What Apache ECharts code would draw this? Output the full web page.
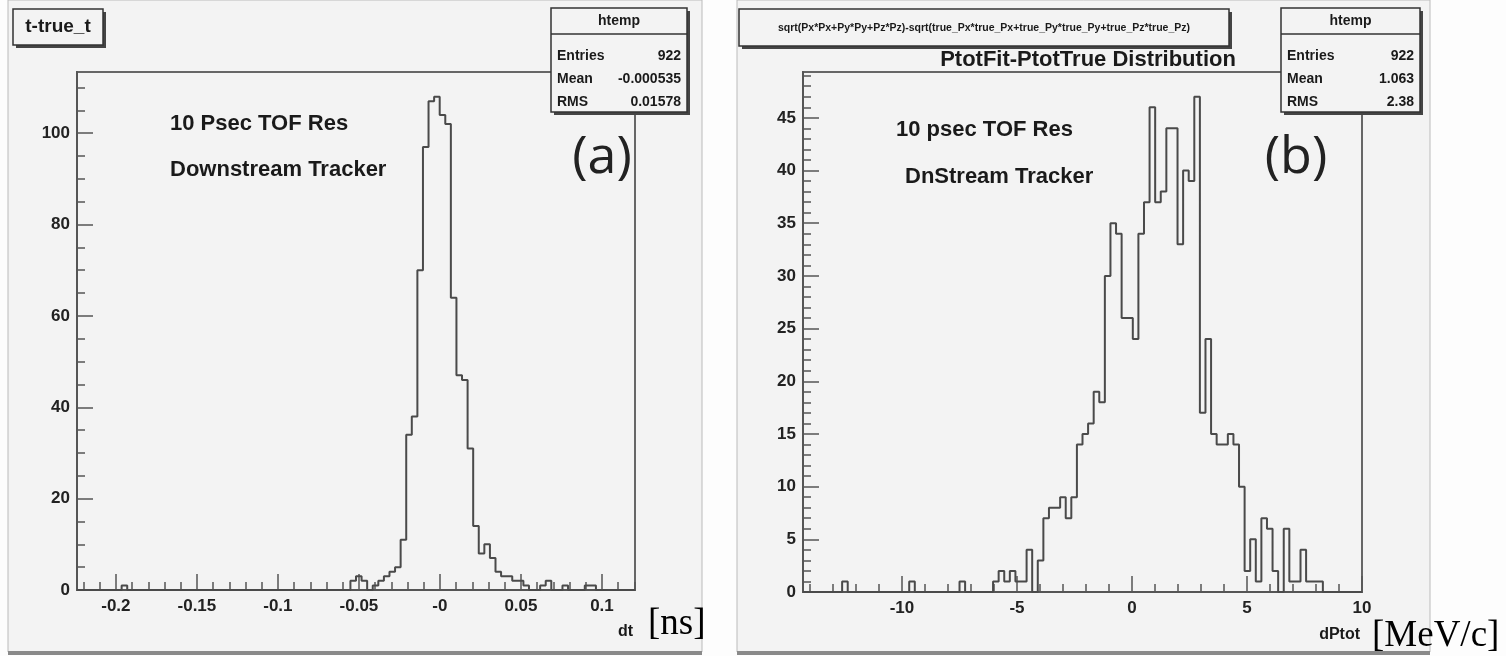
<!DOCTYPE html>
<html>
<head>
<meta charset="utf-8">
<script src="https://cdn.jsdelivr.net/npm/echarts@6/dist/echarts.min.js"></script>
<style>
  html, body { margin: 0; padding: 0; background: #fdfdfd; }
  #container { width: 1506px; height: 656px; }
</style>
</head>
<body>
<div id="container"></div>
<script>
var dom = document.getElementById("container");
var myChart = echarts.init(dom);

// (a) t - true_t, 100 bins
var dtRange = [-0.224, 0.1204];
var dtYMax = 113.4;
var dtCounts = [
  0, 0, 0, 0, 0, 0, 0, 0, 1, 0,
  0, 0, 0, 0, 0, 0, 0, 0, 0, 0,
  0, 0, 0, 0, 0, 0, 0, 0, 0, 0,
  0, 0, 0, 0, 0, 0, 0, 0, 0, 0,
  0, 0, 0, 0, 0, 0, 0, 0, 0, 2,
  3, 2, 0, 1, 2, 3, 4, 5, 11, 34,
  38, 70, 97, 107, 108, 104, 102, 64, 47, 46,
  31, 14, 8, 10, 7, 4, 3, 3, 2, 2,
  1, 0, 0, 1, 2, 0, 0, 1, 0, 0,
  0, 1, 1, 0, 0, 0, 0, 0, 0, 0
];
var dtXMajor = [-0.2, -0.15, -0.1, -0.05, 0, 0.05, 0.1];
var dtXLabels = ['-0.2', '-0.15', '-0.1', '-0.05', '-0', '0.05', '0.1'];
var dtXMinor = [-0.22, -0.21, -0.2, -0.19, -0.18, -0.17, -0.16, -0.15, -0.14, -0.13, -0.12, -0.11,
  -0.1, -0.09, -0.08, -0.07, -0.06, -0.05, -0.04, -0.03, -0.02, -0.01, 0, 0.01, 0.02, 0.03,
  0.04, 0.05, 0.06, 0.07, 0.08, 0.09, 0.1, 0.11, 0.12];
var dtYMajor = [0, 20, 40, 60, 80, 100];
var dtYMinor = [5, 10, 15, 25, 30, 35, 45, 50, 55, 65, 70, 75, 85, 90, 95, 105, 110];
var dtStats = [['Entries', '922'], ['Mean', '-0.000535'], ['RMS', '0.01578']];

// (b) dPtot, 100 bins
var dpRange = [-14.3, 10];
var dpYMax = 49.35;
var dpCounts = [
  0, 0, 0, 0, 0, 0, 0, 1, 0, 0,
  0, 0, 0, 0, 0, 0, 0, 0, 0, 1,
  0, 0, 0, 0, 0, 0, 0, 0, 1, 0,
  0, 0, 0, 0, 1, 2, 1, 2, 1, 1,
  4, 0, 3, 7, 8, 8, 9, 7, 9, 14,
  15, 16, 19, 18, 30, 35, 34, 26, 26, 24,
  34, 37, 46, 37, 38, 44, 44, 33, 40, 39,
  47, 17, 24, 15, 14, 14, 15, 14, 10, 2,
  5, 1, 7, 6, 2, 0, 6, 1, 1, 4,
  1, 1, 1, 0, 0, 0, 0, 0, 0, 0
];
var dpXMajor = [-10, -5, 0, 5, 10];
var dpXLabels = ['-10', '-5', '0', '5', '10'];
var dpXMinor = [-14, -13, -12, -11, -9, -8, -7, -6, -4, -3, -2, -1, 1, 2, 3, 4, 6, 7, 8, 9];
var dpYMajor = [0, 5, 10, 15, 20, 25, 30, 35, 40, 45];
var dpYMinor = [1, 2, 3, 4, 6, 7, 8, 9, 11, 12, 13, 14, 16, 17, 18, 19, 21, 22, 23, 24,
  26, 27, 28, 29, 31, 32, 33, 34, 36, 37, 38, 39, 41, 42, 43, 44, 46, 47, 48, 49];
var dpStats = [['Entries', '922'], ['Mean', '1.063'], ['RMS', '2.38']];

var FONT = '"Liberation Sans", Arial, sans-serif';
var SERIF = '"Liberation Serif", "Times New Roman", serif';
var INK = '#555';

function histPoints(range, counts) {
  var w = (range[1] - range[0]) / counts.length;
  var pts = counts.map(function (c, i) { return [range[0] + i * w, c]; });
  pts.push([range[1], counts[counts.length - 1]]);
  return pts;
}

function majorAxis(grid, pos, min, max, ticks, labels) {
  return {
    type: 'value', gridIndex: grid, position: pos, min: min, max: max,
    axisLine: { show: true, onZero: false, lineStyle: { color: INK, width: 2 } },
    axisTick: { show: true, inside: true, length: 16, customValues: ticks, lineStyle: { color: INK, width: 1.5 } },
    axisLabel: {
      customValues: ticks, margin: pos === 'bottom' ? 8 : 7,
      color: '#222', fontFamily: FONT, fontWeight: 'bold', fontSize: 17,
      formatter: function (v) { var k = ticks.indexOf(v); return k < 0 ? '' : labels[k]; }
    },
    splitLine: { show: false }
  };
}

function minorAxis(grid, pos, min, max, ticks) {
  return {
    type: 'value', gridIndex: grid, position: pos, min: min, max: max,
    axisLine: { show: false, onZero: false },
    axisTick: { show: true, inside: true, length: 8, customValues: ticks, lineStyle: { color: INK, width: 1.5 } },
    axisLabel: { show: false },
    splitLine: { show: false }
  };
}

function txt(x, y, s, size, opt) {
  opt = opt || {};
  return {
    type: 'text', x: x, y: y, z: 100,
    style: {
      text: s, fontSize: size, fontFamily: opt.family || FONT, fontWeight: opt.weight || 'bold',
      fill: opt.color || '#1a1a1a', align: opt.align || 'left', verticalAlign: 'middle'
    }
  };
}

function shadowBox(x, y, w, h) {
  return [
    { type: 'rect', z: 90, shape: { x: x + 3, y: y + 3, width: w, height: h }, style: { fill: '#444' } },
    { type: 'rect', z: 91, shape: { x: x, y: y, width: w, height: h }, style: { fill: '#f3f3f3', stroke: '#333', lineWidth: 1.5 } }
  ];
}

function statBox(x, y, w, h, rows) {
  var els = shadowBox(x, y, w, h);
  els.push(txt(x + w / 2, y + 13, 'htemp', 14, { align: 'center' }));
  els.push({ type: 'line', z: 95, shape: { x1: x, y1: y + 26, x2: x + w, y2: y + 26 }, style: { stroke: '#333', lineWidth: 1.5 } });
  rows.forEach(function (r, i) {
    var ry = y + 48 + i * 23;
    els.push(txt(x + 6, ry, r[0], 14));
    els.push(txt(x + w - 6, ry, r[1], 14, { align: 'right' }));
  });
  return els;
}

var graphics = [
  // canvases
  { type: 'rect', z: -10, shape: { x: 8, y: 0, width: 694, height: 652 }, style: { fill: '#f3f3f3', stroke: '#bbb', lineWidth: 1 } },
  { type: 'rect', z: -9, shape: { x: 8, y: 651, width: 694, height: 4 }, style: { fill: '#8a8a8a' } },
  { type: 'rect', z: -10, shape: { x: 737, y: 0, width: 693, height: 652 }, style: { fill: '#f3f3f3', stroke: '#bbb', lineWidth: 1 } },
  { type: 'rect', z: -9, shape: { x: 737, y: 651, width: 693, height: 4 }, style: { fill: '#8a8a8a' } }
];
graphics = graphics
  .concat(shadowBox(13, 9, 90, 36))
  .concat([txt(58, 27, 't-true_t', 19, { align: 'center' })])
  .concat(statBox(551, 8, 136, 104, dtStats))
  .concat(shadowBox(739, 9, 490, 37))
  .concat([txt(984, 28, 'sqrt(Px*Px+Py*Py+Pz*Pz)-sqrt(true_Px*true_Px+true_Py*true_Py+true_Pz*true_Pz)', 10.5, { align: 'center' })])
  .concat(statBox(1281, 8, 139, 104, dpStats))
  .concat([
    txt(1088, 60, 'PtotFit-PtotTrue Distribution', 22, { align: 'center' }),
    txt(170, 124, '10 Psec TOF Res', 22),
    txt(170, 170, 'Downstream Tracker', 22),
    txt(896, 130, '10 psec TOF Res', 22),
    txt(905, 177, 'DnStream Tracker', 22),
    txt(602, 158, '(a)', 52, { weight: 'normal', family: '"Open Sans", sans-serif', align: 'center', color: '#222' }),
    txt(1296, 158, '(b)', 52, { weight: 'normal', family: '"Open Sans", sans-serif', align: 'center', color: '#222' }),
    txt(633, 632, 'dt', 16, { align: 'right' }),
    txt(648, 624, '[ns]', 37, { weight: 'normal', family: SERIF, color: '#000' }),
    txt(1360, 635, 'dPtot', 16, { align: 'right' }),
    txt(1372, 636, '[MeV/c]', 37, { weight: 'normal', family: SERIF, color: '#000' })
  ]);

var option = {
  animation: false,
  backgroundColor: 'transparent',
  grid: [
    { left: 77, top: 72, width: 558, height: 518, show: true, borderColor: '#666', borderWidth: 2 },
    { left: 803, top: 72, width: 559, height: 520, show: true, borderColor: '#666', borderWidth: 2 }
  ],
  xAxis: [
    majorAxis(0, 'bottom', dtRange[0], dtRange[1], dtXMajor, dtXLabels),
    minorAxis(0, 'bottom', dtRange[0], dtRange[1], dtXMinor),
    majorAxis(1, 'bottom', dpRange[0], dpRange[1], dpXMajor, dpXLabels),
    minorAxis(1, 'bottom', dpRange[0], dpRange[1], dpXMinor)
  ],
  yAxis: [
    majorAxis(0, 'left', 0, dtYMax, dtYMajor, dtYMajor.map(String)),
    minorAxis(0, 'left', 0, dtYMax, dtYMinor),
    majorAxis(1, 'left', 0, dpYMax, dpYMajor, dpYMajor.map(String)),
    minorAxis(1, 'left', 0, dpYMax, dpYMinor)
  ],
  series: [
    {
      type: 'line', step: 'end', xAxisIndex: 0, yAxisIndex: 0, symbol: 'none', silent: true,
      data: histPoints(dtRange, dtCounts), lineStyle: { color: '#4a4a4a', width: 2 }
    },
    {
      type: 'line', step: 'end', xAxisIndex: 2, yAxisIndex: 2, symbol: 'none', silent: true,
      data: histPoints(dpRange, dpCounts), lineStyle: { color: '#4a4a4a', width: 2 }
    }
  ],
  graphic: { elements: graphics }
};

if (option && typeof option === 'object') {
  myChart.setOption(option);
}
</script>
</body>
</html>
